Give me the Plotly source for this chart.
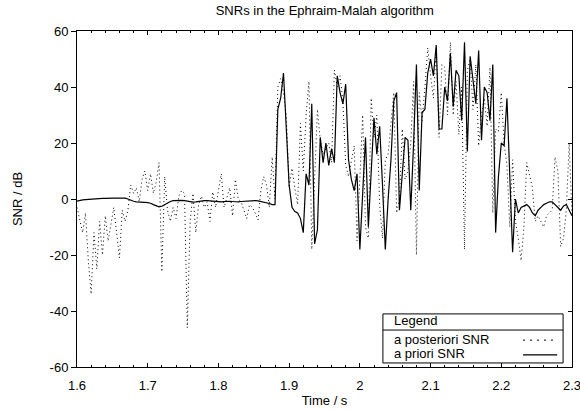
import plotly.graph_objects as go

# frame time axis: 4 ms hop starting at 1.6 s
t_start = 1.6
t_step = 0.004

snr_post = [
    -3, -7, -12, -5, -22, -34, -12, -25, -8, -20,
    -6, -15, -9, -3, -12, -21, -4, -8, -4, 5,
    2, 4, -1, 7, 10, 3, 9, 2, 6, 13,
    -26, 8, -4, -8, -3, -7, 1, 3, 2, -46,
    -8, 2, -12, -2, 1, -3, -1, -8, 2.5, -3,
    3, 9, -3, 1, 4, -6, 7, 0, -1, -4,
    -7, -2, -3, -5, -7.5, 3, 8, 5, -3, 15,
    0, 40, 43, 38, 30, 4, 11, 4, -2, 27,
    10, 30, 42, -18, 5, 32, 21, 16, 18, 20,
    13, 46, 40, 44, 35, 12, 8, 13, 19, -15,
    10, 30, -10, -14, 36, 22, 30, -2, -14, 14,
    16, 28, 38, -5, 0, 25, 7, 10, 20, 42,
    -20, 38, 28, 40, 54, 44, 36, 54, 22, 48,
    47, 30, 56, 30, 42, 23, 40, -18, 46, 50,
    32, 48, 19, 30, 36, 26, 47, -5, 25, 24,
    38, 20, 12, -10, 14, -8, -14, -22, -10, 13,
    8, 4, -8, -6, -8, -10, -6, -5, -4, 15,
    10, -17, -14, -4, 20, -6,
]

snr_prio = [
    -0.8, -0.5, -0.3, -0.2, -0.1, 0, 0.1, 0.1, 0.2, 0.2,
    0.2, 0.3, 0.3, 0.3, 0.3, 0.3, 0.3, 0.3, 0.0, -0.5,
    -0.8, -1.0, -1.0, -1.1, -1.2, -1.3, -1.5, -2.0, -2.5, -2.8,
    -2.6, -2.0, -1.4, -0.9, -0.6, -0.5, -0.4, -0.5, -0.6, -0.8,
    -1.0, -1.1, -1.0, -0.8, -0.7, -0.6, -0.6, -0.7, -0.8, -0.9,
    -1.0, -1.0, -0.9, -0.8, -0.8, -0.9, -1.0, -1.0, -0.9, -0.8,
    -0.7, -0.7, -0.6, -0.6, -0.7, -0.9, -1.2, -1.4, -1.6, -2.0,
    -2.0, 32, 36, 45, 24, 5, -3, -4.5, -5, -7,
    -12, 9, 5, 34, -16, -11, 22, 13, 20, 12,
    18, 13, 44, 38, 34, 41, 14, 7, 3, 9,
    -18, 5, 22, -10, 10, 29, 16, 26, 5, -18,
    0, 14, 35, 38, -4, 10, 22, 21, -4, 20,
    48, 3, 31, 32, 45, 50, 44, 55, 25, 25,
    40, 35, 52, 33, 46, 44, 28, 56, 17, 51,
    42, 34, 53, 21, 40, 38, 28, 48, -12, 8,
    20, 19, 36, 5, -19, 0, -5, -3, -2.5, -2,
    -3, -5, -6, -4, -3, -2, -1.5, -1, -1, -2,
    -3, -4, -2.5, -2, -4, -6,
]

time = [round(t_start + i * t_step, 3) for i in range(len(snr_prio))]

x_ticks = [1.6, 1.7, 1.8, 1.9, 2.0, 2.1, 2.2, 2.3]
x_tick_text = ["1.6", "1.7", "1.8", "1.9", "2", "2.1", "2.2", "2.3"]
y_ticks = [-60, -40, -20, 0, 20, 40, 60]
y_tick_text = ["-60", "-40", "-20", "0", "20", "40", "60"]

font = dict(family="Liberation Sans, Arial, sans-serif", size=13, color="black")

fig = go.Figure()
fig.add_trace(go.Scatter(x=time, y=snr_post, mode='lines', name='a posteriori SNR',
                         line=dict(color='black', width=1, dash='1px,3px')))
fig.add_trace(go.Scatter(x=time, y=snr_prio, mode='lines', name='a priori SNR',
                         line=dict(color='black', width=1.2)))
# dummy trace so the right-hand tick axis is drawn
fig.add_trace(go.Scatter(x=[time[0]], y=[0], yaxis='y2', mode='markers',
                         marker=dict(opacity=0), hoverinfo='skip', showlegend=False))

# hand-made legend box in the gnuplot style
lx0, lx1, ly0, ly1 = 0.618, 0.982, 0.012, 0.158
shapes = [
    dict(type='rect', xref='paper', yref='paper', x0=lx0, x1=lx1, y0=ly0, y1=ly1,
         line=dict(color='black', width=1), fillcolor='white', layer='above'),
    dict(type='line', xref='paper', yref='paper', x0=lx0, x1=lx1, y0=0.110, y1=0.110,
         line=dict(color='black', width=1), layer='above'),
    dict(type='line', xref='paper', yref='paper', x0=0.901, x1=0.962, y0=0.080, y1=0.080,
         line=dict(color='black', width=1, dash='2px,5px'), layer='above'),
    dict(type='line', xref='paper', yref='paper', x0=0.901, x1=0.970, y0=0.036, y1=0.036,
         line=dict(color='black', width=1.2), layer='above'),
]
annotations = [
    dict(text='Legend', x=0.636, y=0.137),
    dict(text='a posteriori SNR', x=0.636, y=0.083),
    dict(text='a priori SNR', x=0.636, y=0.039),
]
for a in annotations:
    a.update(xref='paper', yref='paper', xanchor='left', yanchor='middle',
             showarrow=False, font=font)

fig.update_layout(
    width=580, height=410,
    margin=dict(l=77, r=8, t=31, b=43),
    paper_bgcolor='white', plot_bgcolor='white',
    font=font,
    showlegend=False,
    title=dict(text='SNRs in the Ephraim-Malah algorithm', x=0.56, xanchor='center',
               y=0.975, yanchor='middle', font=font),
    xaxis=dict(range=[1.6, 2.3], tickvals=x_ticks, ticktext=x_tick_text,
               showgrid=False, zeroline=False, automargin=False,
               showline=True, linecolor='black', linewidth=1, mirror='ticks',
               ticks='inside', ticklen=4, tickcolor='black',
               minor=dict(dtick=0.02, tick0=1.6, ticks='inside', ticklen=2, tickcolor='black'),
               ticklabelstandoff=6, ticklabeloverflow='allow', tickfont=font,
               title=dict(text='Time / s', standoff=4, font=font)),
    yaxis=dict(range=[-60, 60], tickvals=y_ticks, ticktext=y_tick_text, showgrid=False,
               zeroline=False, showline=True, linecolor='black', linewidth=1, mirror=True,
               automargin=False, ticks='outside', ticklen=5, tickcolor='black', tickfont=font,
               title=dict(text='SNR / dB', standoff=24, font=font)),
    yaxis2=dict(range=[-60, 60], tickvals=y_ticks, overlaying='y', side='right',
                showticklabels=False, showgrid=False, zeroline=False, showline=False,
                automargin=False, ticks='inside', ticklen=4, tickcolor='black'),
    shapes=shapes,
    annotations=annotations,
)

# page body has a default 8px margin, drop it so the figure fills the window
fig.write_html("out.html", config={'displayModeBar': False},
               post_script="document.body.style.margin='0';")
